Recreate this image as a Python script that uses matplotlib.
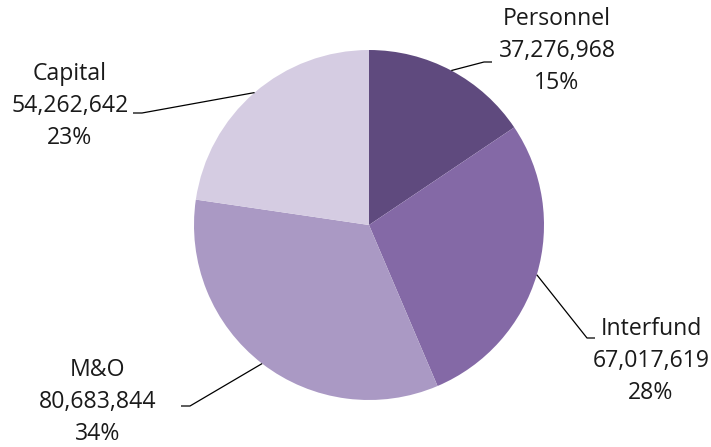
import numpy as np
import matplotlib.pyplot as plt

plt.rcParams['font.family'] = ['Open Sans', 'DejaVu Sans']

# budget categories, clockwise from 12 o'clock
categories = ['Personnel', 'Interfund', 'M&O', 'Capital']
amounts = [37276968, 67017619, 80683844, 54262642]
pct_labels = ['15%', '28%', '34%', '23%']
colors = ['#5f4a7e', '#8469a6', '#aa99c4', '#d5cce2']

# label anchor (text centre) and leader elbow / end, in pixels from top-left
label_xy = [(557, 51), (651, 361), (98, 402), (70, 106)]
elbow_xy = [(484, 62), (587, 338), (190, 406), (142, 113)]
end_xy = [(492, 62), (595, 338), (181, 406), (133, 113)]

W, H = 711, 447
fig = plt.figure(figsize=(W / 100, H / 100), dpi=100)
ax = fig.add_axes([0, 0, 1, 1])

cx, cy, r = 369, H - 225, 175
wedges, _ = ax.pie(amounts, colors=colors, startangle=90, counterclock=False,
                   center=(cx, cy), radius=r, frame=True,
                   wedgeprops=dict(linewidth=0))
ax.set_xlim(0, W)
ax.set_ylim(0, H)
ax.axis('off')

for w, name, amt, pct, lxy, exy, nxy in zip(wedges, categories, amounts, pct_labels,
                                             label_xy, elbow_xy, end_xy):
    mid = np.deg2rad((w.theta1 + w.theta2) / 2)
    px, py = cx + r * np.cos(mid), cy + r * np.sin(mid)
    ax.plot([px, exy[0], nxy[0]], [py, H - exy[1], H - nxy[1]],
            color='black', lw=0.9, solid_capstyle='butt')
    ax.text(lxy[0], H - lxy[1], f'{name}\n{amt:,}\n{pct}', ha='center', va='center',
            fontsize=16.6, linespacing=1.45, color='#1a1a1a')

fig.savefig('out.png', dpi=100)
